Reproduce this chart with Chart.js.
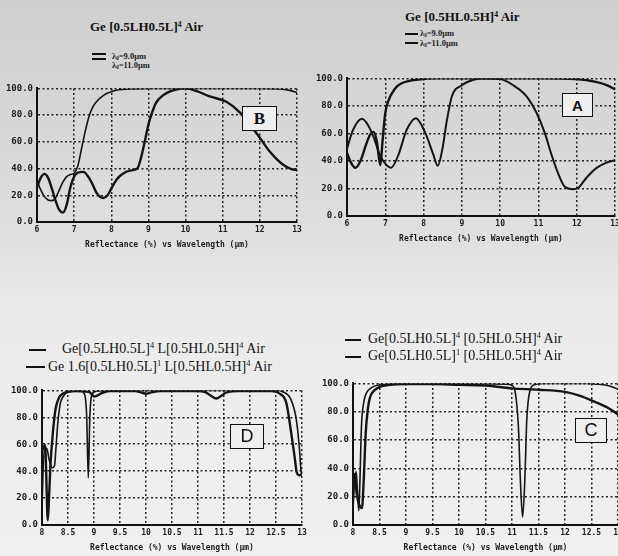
<!DOCTYPE html>
<html>
<head>
<meta charset="utf-8">
<script src="https://cdn.jsdelivr.net/npm/chart.js@4.4.1/dist/chart.umd.min.js"></script>
<style>
  html, body { margin: 0; padding: 0; }
  body {
    width: 618px; height: 556px; overflow: hidden; position: relative;
    background: linear-gradient(#cfcfcf 0%, #d8d8d8 25%, #e1e1e1 45%, #ebebeb 55%, #f0f0f0 100%);
    font-family: 'Liberation Serif', serif; color: #111;
  }
  canvas { position: absolute; }
  .t { position: absolute; white-space: nowrap; line-height: 1; }
  .t sup { font-size: 0.6em; position: relative; top: -0.55em; vertical-align: baseline; }
  .t sub { font-size: 0.6em; position: relative; top: 0.2em; vertical-align: baseline; }
  .ln { position: absolute; background: #111; }
  .box {
    position: absolute; box-sizing: border-box; border: 1.5px solid #111; background: #efefef;
    display: flex; align-items: center; justify-content: center;
    font-family: 'Liberation Sans', sans-serif; font-weight: bold; font-size: 16px;
  }
</style>
</head>
<body>
<canvas id="cB"></canvas>
<canvas id="cA"></canvas>
<canvas id="cD"></canvas>
<canvas id="cC"></canvas>

<!-- top-left -->
<div class="t" style="left:90px;top:20px;font-size:13px;font-weight:bold">Ge [0.5LH0.5L]<sup>4</sup> Air</div>
<div class="ln" style="left:92px;top:53px;width:14px;height:1.5px"></div>
<div class="ln" style="left:92px;top:58px;width:14px;height:1.8px"></div>
<div class="t" style="left:112px;top:52px;font-size:8.5px;font-weight:bold;color:#222">λ<sub>0</sub>=9.0μm</div>
<div class="t" style="left:112px;top:61px;font-size:8.5px;font-weight:bold;color:#222">λ<sub>0</sub>=11.0μm</div>
<div class="box" style="left:242px;top:106px;width:35px;height:25px;font-family:'Liberation Serif',serif;font-size:17px">B</div>

<!-- top-right -->
<div class="t" style="left:405px;top:10px;font-size:13px;font-weight:bold">Ge [0.5HL0.5H]<sup>4</sup> Air</div>
<div class="ln" style="left:405px;top:33px;width:13px;height:1.5px"></div>
<div class="ln" style="left:405px;top:42px;width:13px;height:2px"></div>
<div class="t" style="left:420px;top:29px;font-size:8.5px;font-weight:bold;color:#222">λ<sub>0</sub>=9.0μm</div>
<div class="t" style="left:420px;top:39px;font-size:8.5px;font-weight:bold;color:#222">λ<sub>0</sub>=11.0μm</div>
<div class="box" style="left:562px;top:93px;width:31px;height:24px;font-size:15px">A</div>

<!-- bottom-left -->
<div class="ln" style="left:29px;top:349px;width:17px;height:1.5px"></div>
<div class="t" style="left:62px;top:342px;font-size:14px">Ge[0.5LH0.5L]<sup>4</sup> L[0.5HL0.5H]<sup>4</sup> Air</div>
<div class="ln" style="left:26px;top:366px;width:19px;height:2.2px"></div>
<div class="t" style="left:48px;top:360px;font-size:14px">Ge 1.6[0.5LH0.5L]<sup>1</sup> L[0.5HL0.5H]<sup>4</sup> Air</div>
<div class="box" style="left:230px;top:424px;width:34px;height:25px;font-weight:normal;font-size:18px">D</div>

<!-- bottom-right -->
<div class="ln" style="left:345px;top:339px;width:16px;height:1.8px"></div>
<div class="t" style="left:368px;top:332px;font-size:14px">Ge[0.5LH0.5L]<sup>4</sup> [0.5HL0.5H]<sup>4</sup> Air</div>
<div class="ln" style="left:345px;top:356px;width:16px;height:2.2px"></div>
<div class="t" style="left:368px;top:349px;font-size:14px">Ge[0.5LH0.5L]<sup>1</sup> [0.5HL0.5H]<sup>4</sup> Air</div>
<div class="box" style="left:575px;top:418px;width:32px;height:25px;font-weight:normal;font-size:18px">C</div>

<script>
// tick labels
const topTicks = [6, 7, 8, 9, 10, 11, 12, 13];
const bottomTicks = [8, 8.5, 9, 9.5, 10, 10.5, 11, 11.5, 12, 12.5, 13];
const yTickVals = [0, 20, 40, 60, 80, 100];
const yTickLabels = ['0.0', '20.0', '40.0', '60.0', '80.0', '100.0'];
const xTitle = 'Reflectance (%) vs Wavelength (µm)';

// B: Ge [0.5LH0.5L]^4 Air
const B_x9 = [6.0, 6.1, 6.2, 6.3, 6.4, 6.5, 6.6, 6.7, 6.8, 6.9, 7.0, 7.1, 7.2, 7.3, 7.4, 7.5, 7.6, 7.8, 8.0, 8.2, 8.5, 9.0, 10.0, 11.0, 12.0, 12.5, 12.8, 13.0];
const B_y9 = [31, 24, 19, 16.5, 16, 18, 24, 30, 34, 35.5, 36.5, 42, 55, 68, 79, 86, 90, 95, 97.5, 99, 99.5, 100, 100, 100, 100, 99.5, 98.5, 97];
const B_x11 = [6.0, 6.1, 6.2, 6.3, 6.4, 6.5, 6.6, 6.7, 6.8, 6.9, 7.0, 7.1, 7.25, 7.4, 7.5, 7.6, 7.78, 7.9, 8.0, 8.15, 8.3, 8.5, 8.7, 8.8, 8.9, 9.0, 9.1, 9.2, 9.4, 9.6, 9.8, 10.0, 10.3, 10.65, 11.1, 11.46, 11.95, 12.26, 12.62, 12.85, 13.0];
const B_y11 = [26, 33, 36, 33, 25, 16, 9, 7, 13, 26, 34, 37, 37.5, 33, 28, 22, 18, 20, 25, 32, 36, 38.5, 40, 48, 60, 73, 82, 89, 95, 98, 99.5, 100, 98, 94, 90, 82, 65, 53, 43, 39.5, 39];

// A: Ge [0.5HL0.5H]^4 Air
const A_x9 = [6.0, 6.1, 6.22, 6.35, 6.5, 6.6, 6.7, 6.78, 6.87, 6.93, 7.0, 7.1, 7.17, 7.3, 7.43, 7.6, 7.8, 8.4, 9, 10, 11, 12, 12.5, 12.8, 13];
const A_y9 = [46, 39, 35, 40, 52, 59, 61, 54, 37, 55, 75, 85, 89, 94, 96.5, 98, 99, 100, 100, 100, 100, 99.5, 97.5, 95, 92];
const A_x11 = [6.0, 6.15, 6.39, 6.55, 6.7, 6.85, 7.0, 7.15, 7.35, 7.55, 7.8, 8.05, 8.25, 8.37, 8.5, 8.6, 8.74, 9.0, 9.3, 9.6, 10.0, 10.34, 10.69, 10.95, 11.17, 11.34, 11.52, 11.69, 11.9, 12.04, 12.26, 12.52, 12.78, 13.0];
const A_y11 = [49, 62, 70.6, 66, 57, 45, 38, 35, 45, 62, 71, 60, 45, 36.5, 50, 68, 87, 95, 99, 100, 99.5, 95, 87, 75, 60, 44.7, 30.6, 21.2, 19.5, 20.5, 28, 35, 38.8, 40.5];

// D: two stacks, 8-13 µm
const D_x1 = [8.0, 8.02, 8.05, 8.09, 8.14, 8.2, 8.24, 8.27, 8.3, 8.35, 8.4, 8.45, 8.55, 8.75, 8.82, 8.86, 8.89, 8.92, 8.96, 9.05, 10.0, 11.0, 12.0, 12.5, 12.63, 12.79, 12.89, 12.95, 12.98, 13.0];
const D_y1 = [10, 40, 57, 57, 48, 42.5, 44, 58, 74, 90, 95, 97.6, 99, 99.5, 97, 80, 35, 80, 97, 99.5, 100, 100, 100, 100, 99, 93, 78.5, 57, 40.5, 38];
const D_x2 = [8.0, 8.03, 8.06, 8.08, 8.1, 8.11, 8.13, 8.16, 8.21, 8.26, 8.3, 8.35, 8.48, 8.6, 8.9, 8.96, 9.0, 9.05, 9.15, 9.3, 9.8, 9.9, 10.0, 10.1, 10.3, 11.0, 11.15, 11.25, 11.35, 11.45, 11.55, 11.8, 12.4, 12.57, 12.7, 12.79, 12.86, 12.9, 12.95, 13.0];
const D_y2 = [55, 58, 59.5, 40, 10, 3.5, 15, 43, 69, 86, 92, 96, 99, 99.5, 99, 97, 95.5, 96, 98, 99.5, 99.5, 98.5, 97.5, 98.5, 99.5, 99.5, 98.5, 96, 94, 96, 98.5, 99.5, 99.5, 97.6, 90.5, 69, 50, 39, 37, 38];

// C: two stacks, 8-13 µm
const C_x1 = [8.0, 8.03, 8.06, 8.09, 8.11, 8.13, 8.16, 8.2, 8.25, 8.35, 8.5, 9.0, 10.0, 10.9, 11.0, 11.06, 11.12, 11.16, 11.2, 11.24, 11.28, 11.34, 11.42, 11.6, 12.4, 12.6, 12.8, 13.0];
const C_y1 = [12, 30, 38, 20, 10, 30, 70, 86, 93, 97, 99, 100, 100, 99.5, 98.5, 94, 70, 30, 5.5, 30, 75, 95, 99, 100, 100, 99.5, 98.5, 96];
const C_x2 = [8.0, 8.03, 8.07, 8.12, 8.17, 8.2, 8.24, 8.28, 8.32, 8.4, 8.5, 8.7, 9.0, 9.5, 10.0, 10.5, 11.0, 11.5, 12.0, 12.3, 12.5, 12.8, 13.0];
const C_y2 = [28, 36, 22, 14, 12, 30, 65, 82, 90, 95, 97.5, 99, 99.5, 99.5, 99, 98.5, 96.5, 95.5, 94, 91, 88, 83, 78];

const YW = 44, PT = 6, PR = 14, XH = 28;
const tickFont = { family: 'DejaVu Sans Mono', size: 8, weight: 'bold' };

function drawPanel(id, L, T, R, Bt, xMin, xMax, xTicks, lines) {
  const cv = document.getElementById(id);
  cv.width = Math.round(R - L + YW + PR);
  cv.height = Math.round(Bt - T + PT + XH);
  cv.style.left = (L - YW) + 'px';
  cv.style.top = (T - PT) + 'px';
  new Chart(cv, {
    type: 'line',
    data: {
      datasets: lines.map(s => ({
        data: s.x.map((v, i) => ({ x: v, y: s.y[i] })),
        borderColor: '#141414',
        borderWidth: s.w,
        pointRadius: 0,
        cubicInterpolationMode: 'monotone',
        fill: false
      }))
    },
    options: {
      responsive: false,
      animation: false,
      events: [],
      layout: { padding: { top: PT, right: PR, left: 0, bottom: 0 } },
      plugins: { legend: { display: false }, tooltip: { enabled: false } },
      scales: {
        x: {
          type: 'linear', min: xMin, max: xMax,
          afterBuildTicks: s => { s.ticks = xTicks.map(v => ({ value: v })); },
          afterFit: s => { s.height = XH; },
          ticks: { autoSkip: false, maxRotation: 0, padding: 3, color: '#1a1a1a', font: tickFont, callback: v => String(v) },
          grid: { color: '#222', lineWidth: 1.5, drawTicks: false },
          border: { display: true, color: '#111', width: 2, dash: [2, 2.5] },
          title: { display: true, text: xTitle, padding: 0, color: '#1a1a1a', font: tickFont }
        },
        y: {
          min: 0, max: 100,
          afterBuildTicks: s => { s.ticks = yTickVals.map(v => ({ value: v })); },
          afterFit: s => { s.width = YW; },
          ticks: { padding: 4, color: '#1a1a1a', font: { family: 'DejaVu Sans Mono', size: 9, weight: 'bold' }, callback: (v, i) => yTickLabels[i] },
          grid: { color: '#222', lineWidth: 1.5, drawTicks: false },
          border: { display: true, color: '#111', width: 2, dash: [2, 2.5] }
        }
      }
    }
  });
}

drawPanel('cB', 37, 85, 297, 222, 6, 13, topTicks, [
  { x: B_x9, y: B_y9, w: 1.6 },
  { x: B_x11, y: B_y11, w: 2.4 }
]);
drawPanel('cA', 347, 75, 615, 216, 6, 13, topTicks, [
  { x: A_x9, y: A_y9, w: 2.4 },
  { x: A_x11, y: A_y11, w: 2.0 }
]);
drawPanel('cD', 42, 387, 302, 525, 8, 13, bottomTicks, [
  { x: D_x1, y: D_y1, w: 1.6 },
  { x: D_x2, y: D_y2, w: 2.4 }
]);
drawPanel('cC', 353, 380, 618, 525, 8, 13, bottomTicks, [
  { x: C_x1, y: C_y1, w: 1.6 },
  { x: C_x2, y: C_y2, w: 2.4 }
]);
</script>
</body>
</html>
